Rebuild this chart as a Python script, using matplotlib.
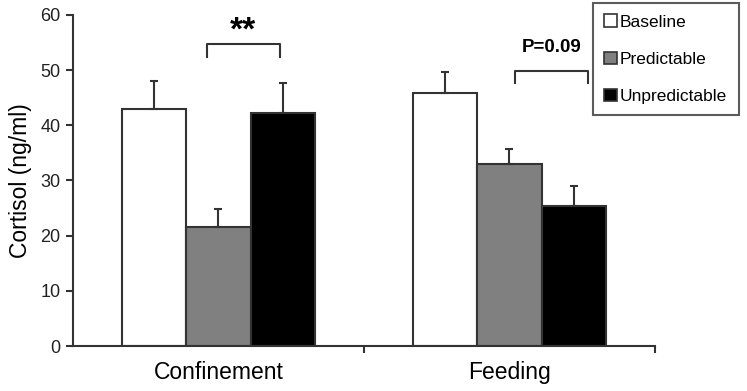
import numpy as np
import matplotlib.pyplot as plt
from matplotlib.patches import Patch

plt.rcParams["font.family"] = ["Liberation Sans", "DejaVu Sans"]

categories = ["Confinement", "Feeding"]
series = ["Baseline", "Predictable", "Unpredictable"]
means = {
    "Baseline": [43.0, 45.8],
    "Predictable": [21.6, 32.9],
    "Unpredictable": [42.2, 25.4],
}
sems = {
    "Baseline": [5.0, 3.8],
    "Predictable": [3.2, 2.8],
    "Unpredictable": [5.4, 3.6],
}
colors = {"Baseline": "white", "Predictable": "#808080", "Unpredictable": "black"}

edge = "#333333"
fig = plt.figure(figsize=(7.47, 3.91), dpi=100)
ax = fig.add_axes([0.0977, 0.115, 0.779, 0.847])

x = np.arange(len(categories))
w = 0.222
for i, s in enumerate(series):
    pos = x + (i - 1) * w
    ax.bar(pos, means[s], width=w, color=colors[s], edgecolor=edge, linewidth=1.5, zorder=2)
    ax.errorbar(pos, means[s], yerr=[np.zeros(2), sems[s]], fmt="none",
                ecolor=edge, elinewidth=1.5, capsize=3, capthick=1.5, zorder=3)

# significance brackets
def bracket(x0, x1, ytop, ybot, label, ytext, size):
    ax.plot([x0, x0, x1, x1], [ybot, ytop, ytop, ybot], color=edge, lw=1.5,
            clip_on=False)
    ax.text((x0 + x1) / 2, ytext, label, ha="center", va="center",
            fontsize=size, fontweight="bold")

bracket(-0.04, 0.21, 54.7, 52.4, "**", 57.0, 24)
bracket(1.02, 1.27, 49.8, 47.6, "P=0.09", 54.1, 13.5)

ax.set_xlim(-0.5, 1.5)
ax.set_ylim(0, 60)
ax.set_yticks(range(0, 61, 10))
ax.set_xticks(x)
ax.set_xticklabels(categories, fontsize=16.5)
ax.set_xticks([0.5, 1.5], minor=True)
ax.tick_params(axis="x", which="major", length=0, pad=11)
ax.tick_params(axis="x", which="minor", length=5, width=1.5, color=edge)
ax.tick_params(axis="y", labelsize=13, length=5, width=1.5, color=edge,
               labelcolor="#222222", pad=4)
ax.set_ylabel("Cortisol (ng/ml)", fontsize=16.5, labelpad=6)
for sp in ["top", "right"]:
    ax.spines[sp].set_visible(False)
for sp in ["left", "bottom"]:
    ax.spines[sp].set_linewidth(1.5)
    ax.spines[sp].set_color(edge)

handles = [Patch(facecolor=colors[s], edgecolor=edge, linewidth=1.2, label=s) for s in series]
leg = fig.legend(handles=handles, loc="upper left", bbox_to_anchor=(0.794, 0.992),
                 fontsize=12.5, frameon=True, fancybox=False, edgecolor=edge,
                 handlelength=0.75, handleheight=0.75, handletextpad=0.15,
                 labelspacing=1.25, borderpad=0.65, borderaxespad=0)
leg.get_frame().set_linewidth(1.5)

fig.savefig("out.png", dpi=100)
